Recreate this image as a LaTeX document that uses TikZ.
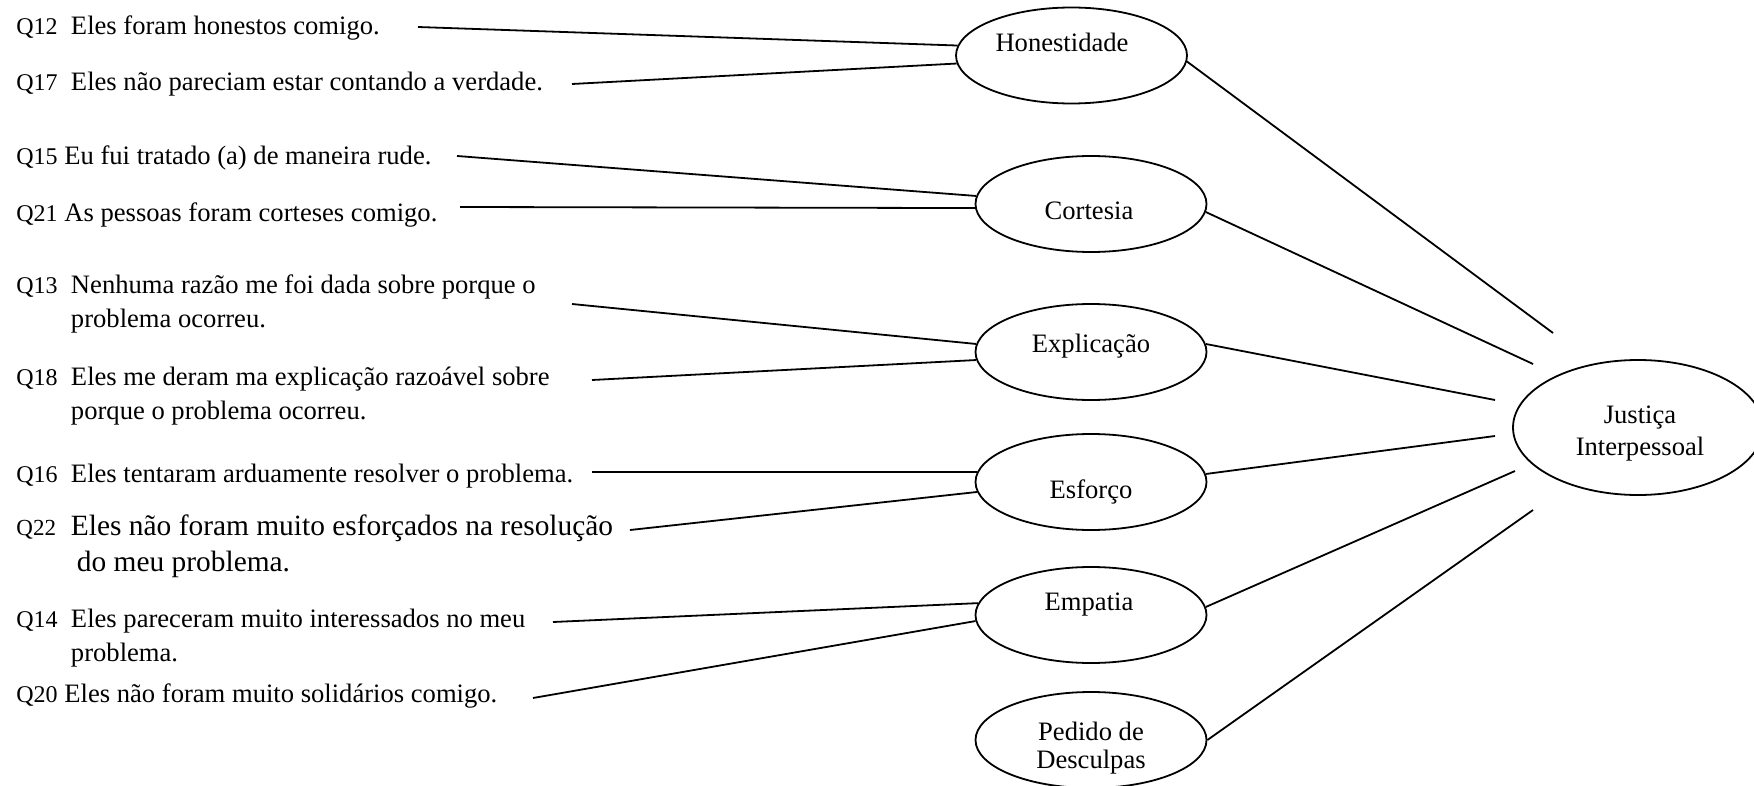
\documentclass[tikz,border=0pt]{standalone}
\usepackage{fontspec}
\setmainfont{Liberation Serif}
\usetikzlibrary{shapes.geometric}

% question number, set a little smaller than the item text
\newcommand\qnum[1]{{\fontsize{12}{17}\selectfont #1}}
\newcommand\qlab[1]{\makebox[27.3pt][l]{\qnum{#1}}}

\begin{document}
\begin{tikzpicture}[x=0.5pt,y=-0.5pt,
  item/.style={anchor=base west, inner sep=0pt, font=\fontsize{13.3}{17}\selectfont},
  factor/.style={ellipse, draw, line width=0.9pt, minimum width=115.5pt,
                 minimum height=48pt, inner sep=0pt},
  flabel/.style={anchor=base, inner sep=0pt, font=\fontsize{13.3}{16}\selectfont},
  link/.style={line width=0.9pt}]

\useasboundingbox (0,0) rectangle (1754,786);

% ---- questionnaire items ----
\node[item] (q12) at (16,35) {\qlab{Q12}Eles foram honestos comigo.};
\node[item] (q17) at (16,91) {\qlab{Q17}Eles não pareciam estar contando a verdade.};
\node[item] (q15) at (16,165) {\qnum{Q15} Eu fui tratado (a) de maneira rude.};
\node[item] (q21) at (16,221) {\qnum{Q21} As pessoas foram corteses comigo.};
\node[item] (q13) at (16,293) {\begin{tabular}[t]{@{}l@{}l@{}}
  \qlab{Q13} & Nenhuma razão me foi dada sobre porque o\\
             & problema ocorreu.\end{tabular}};
\node[item] (q18) at (16,385) {\begin{tabular}[t]{@{}l@{}l@{}}
  \qlab{Q18} & Eles me deram ma explicação razoável sobre\\
             & porque o problema ocorreu.\end{tabular}};
\node[item] (q16) at (16,482) {\qlab{Q16}Eles tentaram arduamente resolver o problema.};
\node[item, font=\fontsize{14.7}{18}\selectfont] (q22) at (16,535) {\begin{tabular}[t]{@{}l@{}l@{}}
  \makebox[27.3pt][l]{\fontsize{11.5}{18}\selectfont Q22} & Eles não foram muito esforçados na resolução\\
             & \hspace{3pt}do meu problema.\end{tabular}};
\node[item] (q14) at (16,627) {\begin{tabular}[t]{@{}l@{}l@{}}
  \qlab{Q14} & Eles pareceram muito interessados no meu\\
             & problema.\end{tabular}};
\node[item] (q20) at (16,702) {\qnum{Q20} Eles não foram muito solidários comigo.};

% ---- factors ----
\node[factor] (hon) at (1071.5,55.5) {};
\node[factor] (cor) at (1091,204) {};
\node[factor] (exp) at (1091,352) {};
\node[factor] (esf) at (1091,482) {};
\node[factor] (emp) at (1091,615) {};
\node[factor] (ped) at (1091,740) {};
\node[factor, minimum width=125pt, minimum height=67.5pt] (jus) at (1638,427.5) {};

\node[flabel] (honT) at (1062,52) {Honestidade};
\node[flabel] (corT) at (1089,220) {Cortesia};
\node[flabel] (expT) at (1091,352) {Explicação};
\node[flabel] (esfT) at (1091,498) {Esforço};
\node[flabel] (empT) at (1089,610) {Empatia};
\node[flabel, font=\fontsize{13.3}{14}\selectfont] (pedT) at (1091,740)
  {\begin{tabular}[t]{@{}c@{}}Pedido de\\Desculpas\end{tabular}};
\node[flabel, font=\fontsize{13.3}{16}\selectfont] (jusT) at (1640,423)
  {\begin{tabular}[t]{@{}c@{}}Justiça\\Interpessoal\end{tabular}};

% ---- free ends of the item lines ----
\coordinate (e12) at (418,27);
\coordinate (e17) at (572,84);
\coordinate (e15) at (457,156);
\coordinate (e21) at (460,207);
\coordinate (e13) at (572,304);
\coordinate (e18) at (592,380);
\coordinate (e16) at (592,472);
\coordinate (e22) at (630,530);
\coordinate (e14) at (553,622);
\coordinate (e20) at (533,698);

% ---- free ends of the factor lines ----
\coordinate (jh) at (1553,333);
\coordinate (jc) at (1533,364);
\coordinate (jx) at (1495,400);
\coordinate (je) at (1495,436);
\coordinate (jm) at (1515,471);
\coordinate (jp) at (1533,510);

% ---- item lines ----
\draw[link] (e12) -- (hon.175);
\draw[link] (e17) -- (hon.184);
\draw[link] (e15) -- (cor.176);
\draw[link] (e21) -- (cor.182);
\draw[link] (e13) -- (exp.176);
\draw[link] (e18) -- (exp.184);
\draw[link] (e16) -- (esf.175);
\draw[link] (e22) -- (esf.185);
\draw[link] (e14) -- (emp.174);
\draw[link] (e20) -- (emp.183);

% ---- factor lines ----
\draw[link] (hon.357) -- (jh);
\draw[link] (cor.356) -- (jc);
\draw[link] (exp.4) -- (jx);
\draw[link] (esf.4) -- (je);
\draw[link] (emp.4) -- (jm);
\draw[link] (ped.0) -- (jp);

\end{tikzpicture}
\end{document}
